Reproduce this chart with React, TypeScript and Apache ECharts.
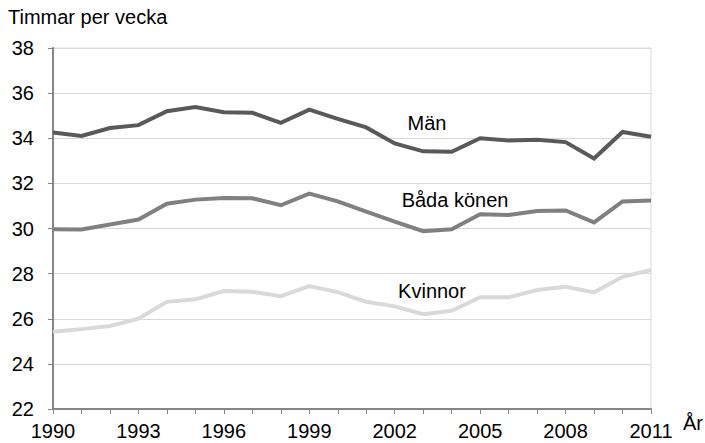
import React, { useEffect, useRef } from "react";
import * as echarts from "echarts";

const years = ["1990","1991","1992","1993","1994","1995","1996","1997","1998","1999","2000","2001","2002","2003","2004","2005","2006","2007","2008","2009","2010","2011"];
const man = [34.25,34.1,34.45,34.58,35.2,35.38,35.15,35.13,34.68,35.27,34.86,34.48,33.77,33.42,33.4,34.0,33.9,33.93,33.83,33.1,34.28,34.07];
const bada = [29.97,29.96,30.18,30.4,31.1,31.28,31.35,31.34,31.03,31.55,31.2,30.75,30.3,29.88,29.97,30.63,30.6,30.78,30.8,30.27,31.2,31.24];
const kvinnor = [25.42,25.54,25.68,26.0,26.75,26.86,27.23,27.2,27.0,27.45,27.18,26.75,26.55,26.2,26.35,26.95,26.95,27.27,27.42,27.17,27.86,28.16];
const seriesNames = ["Män", "Båda könen", "Kvinnor"];
const yTitle = "Timmar per vecka";
const xTitle = "År";

const FONT = "'Liberation Sans', Arial, sans-serif";

export default function App() {
  const ref = useRef<HTMLDivElement>(null);
  useEffect(() => {
    if (!ref.current) return;
    const chart = echarts.init(ref.current, undefined, { renderer: "svg" });
    const lineSeries = (name: string, data: number[], color: string, z: number) => ({
      name,
      type: "line",
      data,
      symbol: "none",
      z,
      lineStyle: { color, width: 4, join: "miter" },
    });
    const lbl = (text: string, x: number, y: number) => ({
      type: "text", x, y,
      style: { text, fontSize: 20, fontFamily: FONT, fill: "#000", align: "center", verticalAlign: "middle" },
    });
    chart.setOption({
      animation: false,
      textStyle: { fontFamily: FONT },
      grid: {
        left: 53, right: 54, top: 48, bottom: 34,
        show: true, borderColor: "#d9d9d9", borderWidth: 1,
      },
      xAxis: {
        type: "category",
        data: years,
        boundaryGap: false,
        axisLine: { lineStyle: { color: "#868686", width: 2 } },
        axisTick: { show: true, interval: 0, length: 5, lineStyle: { color: "#868686", width: 1 } },
        axisLabel: { interval: 2, color: "#000", fontSize: 20, fontFamily: FONT, margin: 12 },
        splitLine: { show: false },
      },
      yAxis: {
        type: "value",
        min: 22, max: 38, interval: 2,
        axisLine: { show: true, lineStyle: { color: "#868686", width: 2 } },
        axisTick: { show: true, length: 5, lineStyle: { color: "#868686", width: 1 } },
        axisLabel: { color: "#000", fontSize: 20, fontFamily: FONT, margin: 19 },
        splitLine: { show: true, lineStyle: { color: "#d9d9d9", width: 1 } },
      },
      series: [
        lineSeries(seriesNames[2], kvinnor, "#d9d9d9", 2),
        lineSeries(seriesNames[1], bada, "#808080", 3),
        lineSeries(seriesNames[0], man, "#595959", 4),
      ],
      graphic: [
        { type: "text", left: 8, top: 7, style: { text: yTitle, fontSize: 20, fontFamily: FONT, fill: "#000" } },
        { type: "text", left: 683, top: 413, style: { text: xTitle, fontSize: 20, fontFamily: FONT, fill: "#000" } },
        lbl(seriesNames[0], 427, 123),
        lbl(seriesNames[1], 455, 200),
        lbl(seriesNames[2], 432, 291),
      ],
    });
    return () => chart.dispose();
  }, []);
  return <div ref={ref} style={{ width: 705, height: 443, position: "absolute", left: 0, top: 0 }} />;
}
